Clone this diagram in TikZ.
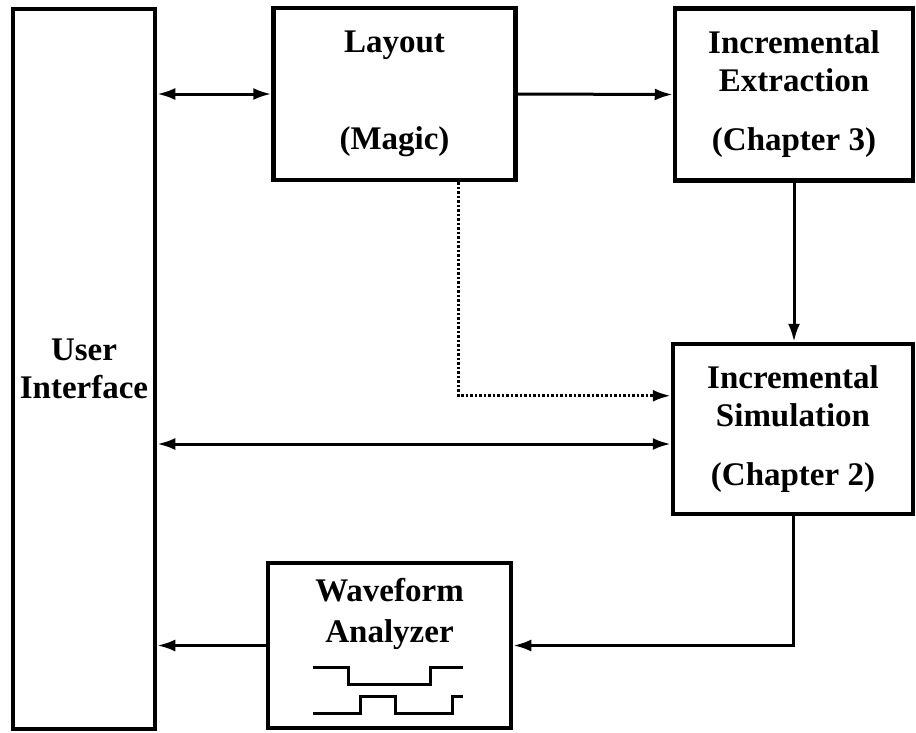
\documentclass[tikz,border=0pt]{standalone}
\usepackage{fontspec}
\setmainfont{Liberation Serif}
\usetikzlibrary{arrows.meta, positioning, calc}

\begin{document}
\begin{tikzpicture}[
    x=1pt, y=-1pt,
    box/.style={rectangle, draw=black, line width=4.5pt, align=center, inner sep=0pt, font=\fontsize{33}{38}\selectfont\bfseries},
    txt/.style={align=center, inner sep=0pt, font=\fontsize{33}{41}\selectfont\bfseries},
    arrow/.style={-{Latex[length=18pt, width=12pt]}, line width=3pt},
    doublearrow/.style={{Latex[length=18pt, width=12pt]}-{Latex[length=18pt, width=12pt]}, line width=3pt},
    dotarrow/.style={-{Latex[length=18pt, width=12pt]}, line width=3pt, dash pattern=on 2.5pt off 2pt},
    signal/.style={line width=3pt}
]
    \useasboundingbox (0,0) rectangle (916,732);

    % Boxes
    \node[box, minimum width=142, minimum height=720] (ui) at (84,369) {User\\Interface};
    \node[box, minimum width=242, minimum height=172] (layout) at (394.5,94) {Layout\\[59pt](Magic)};
    \node[box, minimum width=238, minimum height=172] (ext) at (794,94.5) {Incremental\\Extraction\\[21pt](Chapter 3)};
    \node[box, minimum width=240, minimum height=170] (sim) at (793,429) {Incremental\\Simulation\\[21pt](Chapter 2)};
    \node[box, minimum width=243, minimum height=165] (wave) at (389.5,645.5) {};
    \node[txt, anchor=north] (wavetxt) at (389.5,578) {Waveform\\Analyzer};

    % Waveforms
    \draw[signal] (313,667) -- (348,667) -- (348,684) -- (430,684) -- (430,667) -- (463,667);
    \draw[signal] (313,713) -- (360,713) -- (360,696) -- (395,696) -- (395,713) -- (452,713) -- (452,696) -- (463,696);

    % Connectors
    \coordinate (magicout) at ($(layout.south)+(64,0)$);
    \coordinate (dotin) at ($(sim.north west)+(0,54)$);
    \coordinate (uisim) at ($(sim.west)+(0,15)$);

    \draw[doublearrow] (ui.east |- layout.west) -- (layout.west);
    \draw[arrow] (layout.east) -- (ext.west);
    \draw[arrow] (ext.south) -- (ext.south |- sim.north);
    \draw[dotarrow] (magicout) |- (dotin);
    \draw[doublearrow] (ui.east |- uisim) -- (uisim);
    \draw[arrow] (sim.south) |- (wave.east);
    \draw[arrow] (wave.west) -- (wave.west -| ui.east);
\end{tikzpicture}
\end{document}
